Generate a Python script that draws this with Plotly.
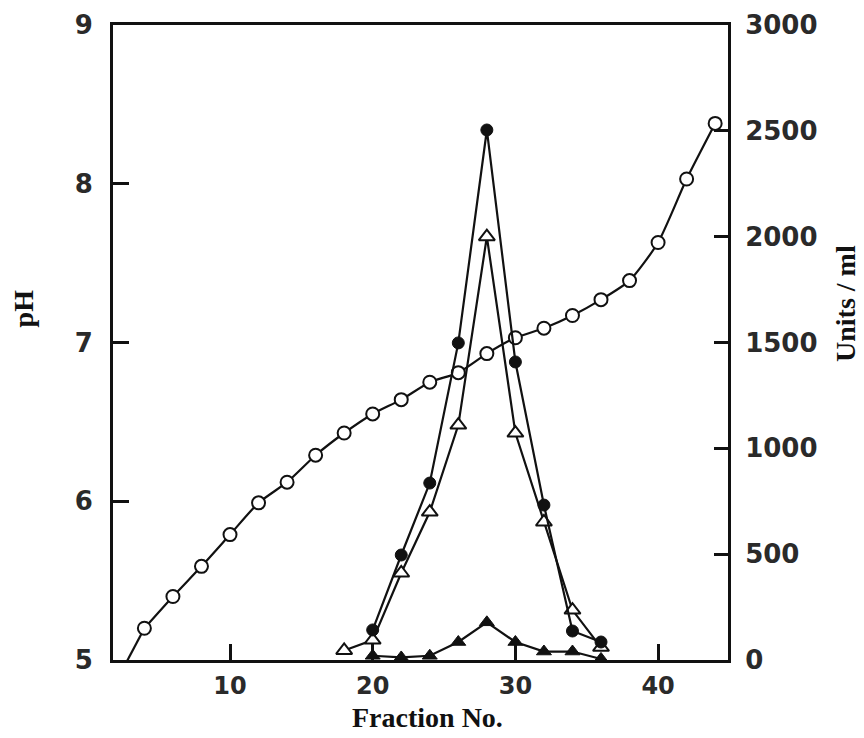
import plotly.graph_objects as go

# pH gradient (open circles)
ph_fraction = [4, 6, 8, 10, 12, 14, 16, 18, 20, 22, 24, 26, 28, 30, 32, 34, 36, 38, 40, 42, 44]
ph_values = [5.20, 5.40, 5.59, 5.79, 5.99, 6.12, 6.29, 6.43, 6.55, 6.64, 6.75, 6.81, 6.93, 7.03, 7.09, 7.17, 7.27, 7.39, 7.63, 8.03, 8.38]
# line continues below the axis at the start
ph_lead_fraction = [2.0, 4]
ph_lead_values = [4.86, 5.20]

# activity (filled circles)
act1_fraction = [20, 22, 24, 26, 28, 30, 32, 34, 36]
act1_values = [142, 496, 836, 1498, 2504, 1408, 732, 137, 85]

# activity (open triangles)
act2_fraction = [18, 20, 22, 24, 26, 28, 30, 32, 34, 36]
act2_values = [45, 94, 411, 699, 1110, 2000, 1072, 652, 236, 60]

# activity (filled triangles)
act3_fraction = [20, 22, 24, 26, 28, 30, 32, 34, 36]
act3_values = [20, 12, 20, 85, 178, 85, 40, 40, 5]

x_ticks = [10, 20, 30, 40]
ph_ticks = [5, 6, 7, 8, 9]
unit_ticks = [0, 500, 1000, 1500, 2000, 2500, 3000]

BLACK = "#111111"
fig = go.Figure()

fig.add_trace(go.Scatter(x=ph_lead_fraction, y=ph_lead_values, mode="lines",
                         line=dict(color=BLACK, width=2.2, shape="spline"),
                         showlegend=False, yaxis="y"))
fig.add_trace(go.Scatter(x=ph_fraction, y=ph_values, mode="lines+markers",
                         line=dict(color=BLACK, width=2.2, shape="spline", smoothing=0.6),
                         marker=dict(symbol="circle", size=13, color="white",
                                     line=dict(color=BLACK, width=2)),
                         showlegend=False, yaxis="y"))

fig.add_trace(go.Scatter(x=act2_fraction, y=act2_values, mode="lines+markers",
                         line=dict(color=BLACK, width=2.2),
                         marker=dict(symbol="triangle-up", size=14, color="white",
                                     line=dict(color=BLACK, width=2)),
                         showlegend=False, yaxis="y2"))
fig.add_trace(go.Scatter(x=act1_fraction, y=act1_values, mode="lines+markers",
                         line=dict(color=BLACK, width=2.2),
                         marker=dict(symbol="circle", size=12, color=BLACK,
                                     line=dict(color=BLACK, width=1)),
                         showlegend=False, yaxis="y2"))
fig.add_trace(go.Scatter(x=act3_fraction, y=act3_values, mode="lines+markers",
                         line=dict(color=BLACK, width=2.2),
                         marker=dict(symbol="triangle-up", size=13, color=BLACK,
                                     line=dict(color=BLACK, width=1)),
                         showlegend=False, yaxis="y2"))

tickfont = dict(family="DejaVu Sans", size=26, color="#2a2a2a", weight="bold")
xtickfont = dict(family="DejaVu Sans", size=24, color="#2a2a2a", weight="bold")
titlefont = dict(family="Liberation Serif", size=28, color=BLACK, weight="bold")

fig.update_layout(
    width=856, height=730,
    margin=dict(l=105, r=136, t=17, b=78, autoexpand=False),
    paper_bgcolor="white", plot_bgcolor="white",
    xaxis=dict(range=[1.8, 44.9], tickvals=x_ticks, ticks="inside", ticklen=16,
               tickwidth=2.5, tickcolor=BLACK, showline=True, linewidth=3,
               linecolor=BLACK, mirror=True, showgrid=False, zeroline=False,
               tickfont=xtickfont, ticklabelstandoff=2, automargin=False,
               ticklabeloverflow="allow"),
    yaxis=dict(range=[5, 9], tickvals=ph_ticks, ticks="inside", ticklen=16,
               tickwidth=2.5, tickcolor=BLACK, showline=True, linewidth=3,
               linecolor=BLACK, showgrid=False, zeroline=False,
               tickfont=tickfont, ticklabelstandoff=12, automargin=False,
               ticklabeloverflow="allow"),
    yaxis2=dict(range=[0, 3000], tickvals=unit_ticks, ticks="inside", ticklen=14,
                tickwidth=2.5, tickcolor=BLACK, showline=True, linewidth=3,
                linecolor=BLACK, showgrid=False, zeroline=False, overlaying="y",
                side="right", tickfont=tickfont, ticklabelstandoff=9,
                automargin=False, ticklabeloverflow="allow"),
    annotations=[
        dict(text="pH", xref="paper", yref="paper", x=-0.146, y=0.554,
             xanchor="center", yanchor="middle",
             showarrow=False, textangle=-90, font=titlefont),
        dict(text="Units / ml", xref="paper", yref="paper", x=1.19, y=0.562,
             xanchor="center", yanchor="middle",
             showarrow=False, textangle=-90, font=titlefont),
        dict(text="Fraction No.", xref="paper", yref="paper", x=0.511, y=-0.09,
             xanchor="center", yanchor="middle",
             showarrow=False, font=titlefont),
    ],
)

fig.write_html("out.html")
